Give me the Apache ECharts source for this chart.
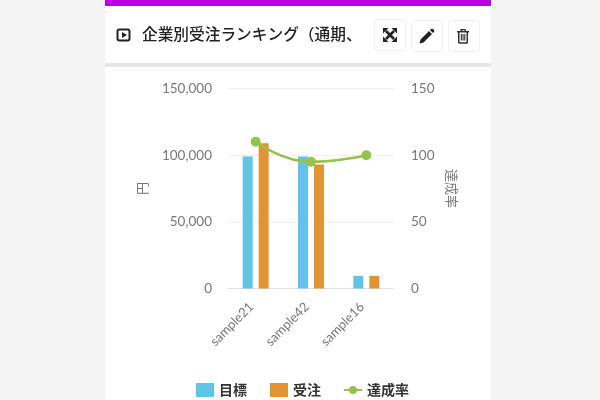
<!DOCTYPE html>
<html><head><meta charset="utf-8">
<style>html,body{margin:0;padding:0;background:#f4f4f4}#c{width:600px;height:400px}svg{position:absolute;left:0;top:0}</style>
<script src="https://cdn.jsdelivr.net/npm/echarts@6/dist/echarts.min.js"></script>
</head><body><div id="c"></div>
<svg width="600" height="400" viewBox="0 0 600 400">
<g stroke="#222" stroke-width="2.600" fill="none"><path d="M386 31L394 39M394 31L386 39"/></g>
<path fill="#222" d="M383 28h5.500l-5.500 5.500zM397 28v5.500l-5.500-5.500zM383 42v-5.500l5.500 5.500zM397 42h-5.500l5.500-5.500z"/>
<path fill="#222" d="M419.500 43.500l1-4 8.500-8.500 3 3-8.500 8.500zM430 30l1-1q1-.7 2 0l1 1q.7 1 0 2l-1 1z"/>
<path fill="#333" fill-rule="evenodd" d="M457 31h12v1.500h-1v10q0 1.200-1.200 1.200h-7.600q-1.200 0-1.200-1.200v-10h-1zM460.500 29h5l.8 2h-1.500l-.4-.8h-2.200l-.4.800h-1.500zM459.500 32.500v9.800h7v-9.800zM460.800 34h1.100v6.500h-1.100zM462.500 34h1.100v6.500h-1.100zM464.200 34h1.100v6.500h-1.100z"/>
</svg>
<script>
const categories=['sample21','sample42','sample16'];
const targetValues=[99000,99000,9500];
const orderValues=[109000,93000,9500];
const rateValues=[110,95,100];
const FONT='"Noto Sans CJK JP","Noto Sans",sans-serif';
const LATIN='Lato,"Noto Sans CJK JP",sans-serif';
function btn(x,y){return {type:'rect',shape:{x:x+.5,y:y+.5,width:31,height:31,r:3},style:{fill:'#fff',stroke:'#f0f0f0',lineWidth:1},z:1};}
const chart=echarts.init(document.getElementById('c'));
chart.setOption({
 animation:false,backgroundColor:'#f4f4f4',
 textStyle:{fontFamily:LATIN},
 graphic:[
  {type:'rect',shape:{x:105,y:0,width:386,height:400},style:{fill:'#fff'},z:0},
  {type:'rect',shape:{x:105,y:0,width:386,height:6},style:{fill:'#bb00e6'},z:1},
  {type:'rect',shape:{x:105,y:63,width:386,height:4},style:{fill:'#e6e6e6'},z:1},
  {type:'rect',shape:{x:117.5,y:29.5,width:12,height:11,r:2},style:{fill:'#fff',stroke:'#222',lineWidth:2},z:2},
  {type:'polygon',shape:{points:[[122,32],[122,38],[127,35]]},style:{fill:'#222'},z:2},
  {type:'text',x:142,y:34,style:{text:'企業別受注ランキング（通期、',font:'500 15.7px '+FONT,fill:'#222',textVerticalAlign:'middle'},z:2},
  btn(374,19),btn(411,20),btn(448,20)
 ],
 legend:{top:383,left:196,padding:0,itemWidth:18,itemHeight:14,itemGap:23,
  textStyle:{fontFamily:FONT,fontSize:14,fontWeight:'bold',color:'#333'},
  data:[{name:'目標',icon:'rect'},{name:'受注',icon:'rect'},{name:'達成率',icon:'path://M0 0h.01v.01zM18 14h.01v.01zM0 6h18v2H0zM9 3a4 4 0 1 1 -.01 0z'}]},
 grid:{left:228,right:206,top:88.500,bottom:111.500},
 xAxis:{type:'category',data:categories,
  axisLine:{lineStyle:{color:'#e2e2e2',width:1}},axisTick:{length:10,lineStyle:{color:'#e2e2e2'}},
  axisLabel:{rotate:45,interval:0,fontSize:13,color:'#777',margin:12,padding:[0,6,0,0]}},
 yAxis:[
  {type:'value',min:0,max:150000,interval:50000,name:'円',nameLocation:'middle',nameGap:79,nameRotate:90,
   nameTextStyle:{fontFamily:FONT,fontSize:13,color:'#777'},
   axisLine:{show:false},axisTick:{show:false},splitLine:{lineStyle:{color:'#f0f0f0'}},
   axisLabel:{fontSize:13.500,color:'#777',margin:16,formatter:v=>v.toLocaleString('en-US')}},
  {type:'value',min:0,max:150,interval:50,name:'達成率',nameLocation:'middle',nameGap:51,nameRotate:-90,
   nameTextStyle:{fontFamily:FONT,fontSize:13,color:'#777'},
   axisLine:{show:false},axisTick:{show:false},splitLine:{show:false},
   axisLabel:{fontSize:13.500,color:'#777',margin:17}}
 ],
 series:[
  {name:'目標',type:'bar',data:targetValues,barWidth:10,barGap:'60%',itemStyle:{color:'#62c3e8'}},
  {name:'受注',type:'bar',data:orderValues,barWidth:10,itemStyle:{color:'#e29433'}},
  {name:'達成率',type:'line',yAxisIndex:1,data:rateValues,smooth:true,symbol:'circle',symbolSize:10,
   lineStyle:{color:'#95c24a',width:2.500},itemStyle:{color:'#95c24a'}}
 ]
});
</script></body></html>
